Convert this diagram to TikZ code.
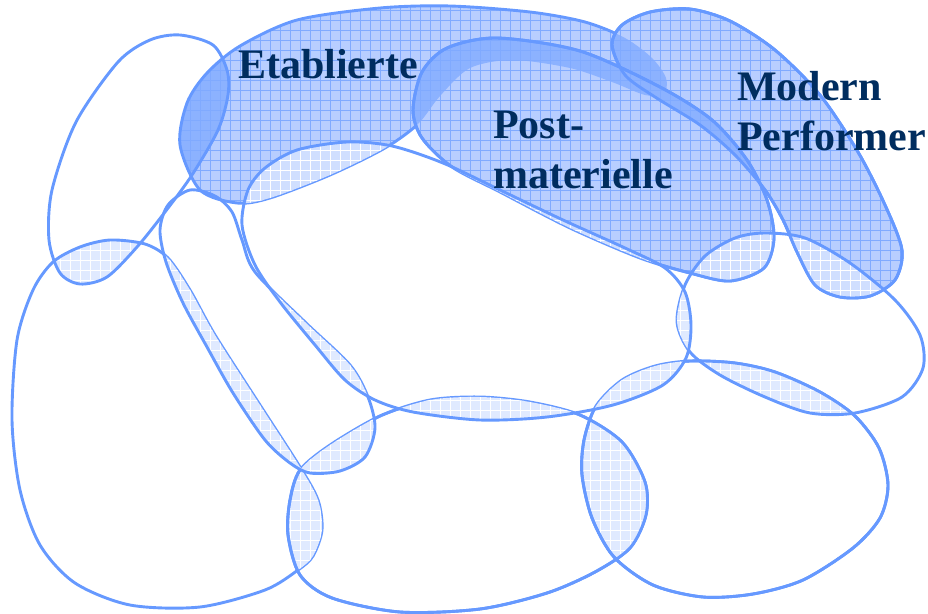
\documentclass[tikz,border=0pt]{standalone}
\usepackage{fontspec}
\setmainfont{Liberation Serif}
\usetikzlibrary{positioning}
\definecolor{rimblue}{RGB}{102,153,255}
\definecolor{fillblue}{RGB}{184,206,255}
\definecolor{gridblue}{RGB}{128,170,255}
\definecolor{deepblue}{RGB}{140,178,255}
\definecolor{paleblue}{RGB}{208,223,255}
\definecolor{lensblue}{RGB}{224,234,255}
\definecolor{navy}{RGB}{0,45,95}

\newcommand\shapeT{plot[smooth cycle] coordinates {(180,35) (213,45) (227,70) (228,95) (218,130) (192,175) (165,212) (137,247) (107,277) (80,284) (60,273) (49,240) (52,190) (76,122) (118,62) (150,40)}}
\newcommand\shapeE{plot[smooth cycle] coordinates {(180,145) (187,103) (207,73) (240,46) (297,20) (380,8) (450,6) (530,12) (585,22) (625,38) (652,58) (666,78) (664,94) (645,95) (612,82) (570,68) (513,60) (470,68) (440,96) (418,124) (385,148) (330,175) (270,198) (237,203) (200,190)}}
\newcommand\shapeM{plot[smooth cycle] coordinates {(612,45) (622,25) (650,12) (690,9) (730,21) (775,50) (820,95) (858,152) (885,205) (902,250) (895,280) (870,296) (840,297) (815,285) (797,252) (783,220) (765,190) (735,155) (700,125) (655,97) (625,75)}}
\newcommand\shapeP{plot[smooth cycle] coordinates {(413,110) (422,72) (447,48) (497,38) (580,51) (660,87) (712,120) (747,160) (767,200) (774,238) (764,268) (730,281) (690,273) (640,258) (570,228) (500,192) (452,167) (422,138)}}
\newcommand\shapeL{plot[smooth cycle] coordinates {(53,262) (80,247) (110,240) (145,244) (168,258) (190,290) (215,335) (260,405) (300,467) (318,500) (322,530) (313,556) (298,570) (265,590) (200,607) (130,605) (75,583) (40,545) (20,490) (12,420) (17,340) (33,290)}}
\newcommand\shapeS{plot[smooth cycle] coordinates {(160,230) (168,205) (190,190) (215,196) (232,212) (242,240) (255,272) (305,322) (350,365) (368,397) (375,428) (365,457) (340,471) (310,473) (290,463) (265,440) (233,393) (207,347) (183,303) (166,262)}}
\newcommand\shapeC{plot[smooth cycle] coordinates {(242,225) (248,190) (265,168) (297,150) (347,142) (392,146) (443,163) (500,190) (563,220) (625,248) (665,268) (685,292) (691,325) (686,358) (663,385) (613,405) (547,417) (480,420) (413,412) (375,400) (345,380) (315,345) (280,302) (255,265)}}
\newcommand\shapeB{plot[smooth cycle] coordinates {(300,470) (330,445) (380,416) (430,400) (480,397) (530,402) (580,415) (622,442) (645,482) (646,515) (630,548) (595,572) (547,593) (480,609) (400,612) (332,598) (300,575) (288,535) (290,500)}}
\newcommand\shapeQ{plot[smooth cycle] coordinates {(582,475) (584,440) (596,406) (622,380) (655,366) (690,361) (735,363) (775,372) (820,392) (855,416) (879,448) (888,485) (880,518) (853,548) (803,580) (753,594) (703,597) (653,585) (614,557) (592,518)}}
\newcommand\shapeR{plot[smooth cycle] coordinates {(677,322) (685,285) (705,256) (735,238) (765,233) (805,238) (850,263) (895,300) (920,335) (923,368) (902,397) (855,413) (810,413) (765,397) (720,375) (690,352)}}

% fill the common part of two shapes, then lay a grid over it
\newcommand\lens[4]{%
\begin{scope}
\clip #1; \clip #2;
\fill[#3] (0,613) rectangle (928,0);
\draw[#4, line width=0.5pt] (0,613) grid[step=10pt] (928,0);
\end{scope}}

\begin{document}
\begin{tikzpicture}[x=1pt, y=-1pt,
  rim/.style={draw=rimblue, line width=2.9pt},
  lbl/.style={font=\bfseries\fontsize{42}{50}\selectfont, text=navy, inner sep=0pt, anchor=base west, align=left}]

\useasboundingbox (0,0) rectangle (928,613);

% filled milieus
\lens{\shapeE}{\shapeE}{fillblue}{gridblue}
\lens{\shapeE}{\shapeT}{deepblue}{gridblue}
\draw[rim] \shapeE;
\lens{\shapeM}{\shapeM}{fillblue}{gridblue}
\lens{\shapeM}{\shapeE}{deepblue}{gridblue}
\draw[rim] \shapeM;
\lens{\shapeP}{\shapeP}{fillblue}{gridblue}
\lens{\shapeP}{\shapeE}{deepblue}{gridblue}
\lens{\shapeP}{\shapeM}{deepblue}{gridblue}
\draw[rim] \shapeP;

% open milieus
\lens{\shapeL}{\shapeT}{lensblue}{white}
\draw[rim] \shapeL;
\lens{\shapeB}{\shapeL}{lensblue}{white}
\draw[rim] \shapeB;
\lens{\shapeS}{\shapeL}{lensblue}{white}
\lens{\shapeS}{\shapeB}{lensblue}{white}
\draw[rim] \shapeS;
\lens{\shapeQ}{\shapeB}{lensblue}{white}
\draw[rim] \shapeQ;
\lens{\shapeR}{\shapeQ}{lensblue}{white}
\lens{\shapeR}{\shapeP}{paleblue}{white}
\lens{\shapeR}{\shapeM}{paleblue}{white}
\draw[rim] \shapeR;
\lens{\shapeC}{\shapeS}{lensblue}{white}
\lens{\shapeC}{\shapeB}{lensblue}{white}
\lens{\shapeC}{\shapeQ}{lensblue}{white}
\lens{\shapeC}{\shapeR}{lensblue}{white}
\lens{\shapeC}{\shapeE}{paleblue}{white}
\lens{\shapeC}{\shapeP}{paleblue}{white}
\draw[rim] \shapeC;

% edges that stay visible on top
\draw[rim] \shapeT;
\draw[rim] \shapeM;
\begin{scope}[even odd rule]
\clip (-5,-5) rectangle (933,618) \shapeC;
\draw[rim] \shapeP;
\draw[rim] \shapeQ;
\begin{scope}[even odd rule]
\clip (-5,-5) rectangle (933,618) \shapeS;
\draw[rim] \shapeB;
\end{scope}
\end{scope}

\node[lbl] (etab) at (238,78) {Etablierte};
\node[lbl] (post) at (493,188) {Post-\\materielle};
\node[lbl] (modp) at (737,150) {Modern\\Performer};

\end{tikzpicture}
\end{document}
